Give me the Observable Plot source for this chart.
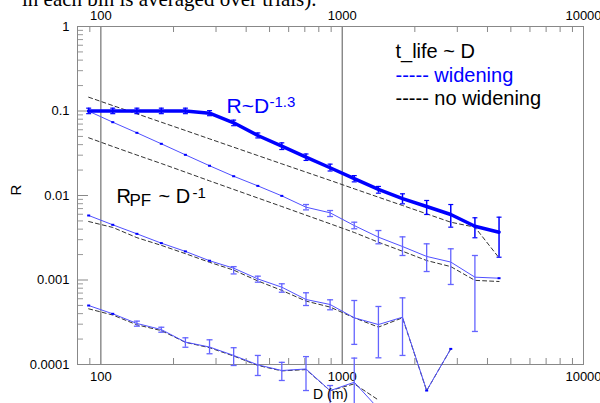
<!DOCTYPE html>
<html><head><meta charset="utf-8">
<script src="https://cdn.jsdelivr.net/npm/d3@7"></script>
<script src="https://cdn.jsdelivr.net/npm/@observablehq/plot@0.6"></script>
<style>
html,body{margin:0;padding:0;background:#fff;overflow:hidden;}
#wrap{position:relative;width:600px;height:403px;overflow:hidden;}
#chart{position:absolute;left:0;top:0;}
#caption{position:absolute;left:22px;top:-9px;font-family:"Liberation Serif",serif;font-size:21px;line-height:16px;white-space:nowrap;color:#000;}
</style></head><body>
<div id="wrap"><div id="chart"></div><div id="caption">in each bin is averaged over trials).</div></div>
<script>
// distance bins D (m)
const D = [89, 112, 141, 178, 224, 282, 355, 447, 562, 708, 891, 1122, 1413, 1778, 2239, 2818, 3548, 4467];

// top pair
const widenTop = [0.1, 0.1, 0.1, 0.1, 0.1, 0.0942, 0.0725, 0.0513, 0.0383, 0.0284, 0.0213, 0.0158, 0.0118, 0.0092, 0.00741, 0.00596, 0.00433, 0.00368];
const widenTopLo = [0.093, 0.093, 0.093, 0.093, 0.093, 0.088, 0.067, 0.048, 0.035, 0.026, 0.0195, 0.0145, 0.01065, 0.00797, 0.00596, 0.00422, 0.00316, 0.00186];
const widenTopHi = [0.108, 0.108, 0.108, 0.108, 0.108, 0.101, 0.078, 0.055, 0.042, 0.031, 0.0235, 0.0172, 0.0128, 0.01047, 0.00873, 0.00782, 0.00545, 0.00554];
const noWidenTop = [0.1456, 0.116, 0.0927, 0.0737, 0.0588, 0.0468, 0.0373, 0.0297, 0.0237, 0.0189, 0.0151, 0.012, 0.00955, 0.00762, 0.00607, 0.00483, 0.00422, 0.00183];

// second pair
const widen2 = [0.0995, 0.0737, 0.0552, 0.0409, 0.0303, 0.0225, 0.0169, 0.013, 0.0099, 0.00727, 0.00624, 0.00441, 0.00321, 0.00249, 0.0019, 0.00163, 0.00108, 0.00105];
const widen2Lo = [null, null, null, null, null, null, null, null, null, 0.00676, 0.00564, 0.00404, 0.00268, 0.00195, 0.00126, 0.000885, 0.000246, null];
const widen2Hi = [null, null, null, null, null, null, null, null, null, 0.00782, 0.00664, 0.00483, 0.00385, 0.00324, 0.00268, 0.00234, 0.00195, null];
const noWiden2 = [0.0482, 0.038, 0.0301, 0.0239, 0.0189, 0.0149, 0.0118, 0.00934, 0.00741, 0.00585, 0.00463, 0.00365, 0.0028, 0.00219, 0.0017, 0.00144, 0.00099, 0.00096];

// third pair
const widen3 = [0.0058, 0.0045, 0.00352, 0.00273, 0.00218, 0.00169, 0.00138, 0.00103, 0.000822, 0.000588, 0.000513, 0.000357, 0.000297, 0.000363, 0.0000492, 0.000153];
const widen3Lo = [null, null, null, null, null, null, 0.00118, 0.000942, 0.000717, 0.000499, 0.000444, 0.000173, 0.00012, 0.000128, null, null];
const widen3Hi = [null, null, null, null, null, null, 0.00144, 0.00111, 0.000902, 0.000706, 0.000583, 0.000572, 0.000486, 0.000615, null, null];
const noWiden3 = [0.00492, 0.00419, 0.00317, 0.00257, 0.00205, 0.00162, 0.00131, 0.000975, 0.000753, 0.000563, 0.000478, 0.000357, 0.000277, 0.000357, 0.000049, 0.000153];

// fourth pair
const widen4 = [0.000499, 0.000398, 0.000306, 0.000259, 0.000184, 0.000161, 0.000128, 0.0000991, 0.0000849, 0.0000885, 0.000049, 0.0000617, 0.00003];
const widen4Lo = [null, null, 0.000284, 0.000241, 0.00016, 0.000134, 0.0000973, 0.0000741, 0.0000647, 0.0000492, 0.00002, 0.00002, null];
const widen4Hi = [null, null, 0.000326, 0.000276, 0.000207, 0.000196, 0.000158, 0.000128, 0.000106, 0.000124, 0.0000564, 0.000119, null];
const noWiden4 = [0.000456, 0.000385, 0.000295, 0.000252, 0.000183, 0.000158, 0.000126, 0.0000975, 0.000084, 0.000087, 0.000049, 0.000059, 0.000038];

// axes
const xLabelTicks = [100, 1000, 10000];
const xLabelText = ["100", "1000", "10000"];
const xMinorTicks = [90, 200, 300, 400, 500, 600, 700, 800, 900, 2000, 3000, 4000, 5000, 6000, 7000, 8000, 9000];
const yMajorTicks = [1, 0.1, 0.01, 0.001, 0.0001];
const yLabelText = ["1", "0.1", "0.01", "0.001", "0.0001"];
const yMinorTicks = [0.9,0.8,0.7,0.6,0.5,0.4,0.3,0.2,0.09,0.08,0.07,0.06,0.05,0.04,0.03,0.02,0.009,0.008,0.007,0.006,0.005,0.004,0.003,0.002,0.0009,0.0008,0.0007,0.0006,0.0005,0.0004,0.0003,0.0002];

const rows = (s, vals, lo, hi) => vals.map((v, i) => ({s, D: D[i], R: v, lo: lo ? lo[i] : null, hi: hi ? hi[i] : null}));
const thick = rows("top", widenTop, widenTopLo, widenTopHi);
const thin = [...rows("w2", widen2, widen2Lo, widen2Hi), ...rows("w3", widen3, widen3Lo, widen3Hi), ...rows("w4", widen4, widen4Lo, widen4Hi)];
const dashed = [...rows("n1", noWidenTop), ...rows("n2", noWiden2), ...rows("n3", noWiden3), ...rows("n4", noWiden4)];
const thinErr = thin.filter(d => d.lo != null);
const thinNoErr = thin.filter(d => d.lo == null);

const cap = {draw(ctx, size) { const w = Math.sqrt(size / Math.PI); ctx.moveTo(-w, 0); ctx.lineTo(w, 0); }};

const W = 600, H = 403, mt = 26, mb = 39, ml = 77, mr = 17;
const iw = W - ml - mr, ih = H - mt - mb;
const blue = "#0000ff", thinBlue = "#5050ff", errBlue = "#6464ff";
const font = "Liberation Sans, Arial, sans-serif";

const chart = Plot.plot({
  width: W, height: H,
  marginTop: mt, marginBottom: mb, marginLeft: ml, marginRight: mr,
  style: {fontFamily: font, fontSize: "13px", background: "transparent", color: "#000", overflow: "visible"},
  x: {type: "log", domain: [80, 10000]},
  y: {type: "log", domain: [0.0001, 1]},
  marks: [
    Plot.ruleX([100, 1000], {stroke: "#555", strokeWidth: 1}),
    Plot.ruleX(xMinorTicks, {stroke: "#888", insetBottom: ih - 6}),
    Plot.ruleX(xMinorTicks, {stroke: "#888", insetTop: ih - 6}),
    Plot.ruleY(yMajorTicks, {stroke: "#888", insetRight: iw - 11}),
    Plot.ruleY(yMinorTicks, {stroke: "#999", insetRight: iw - 6}),
    Plot.frame({stroke: "#888"}),
    Plot.axisX({anchor: "top", ticks: xLabelTicks, tickSize: 0, tickPadding: 7, tickFormat: d => xLabelText[xLabelTicks.indexOf(d)], label: null}),
    Plot.axisX({anchor: "bottom", ticks: xLabelTicks, tickSize: 0, tickPadding: 7, tickFormat: d => xLabelText[xLabelTicks.indexOf(d)], label: null}),
    Plot.axisY({anchor: "left", ticks: yMajorTicks, tickSize: 0, tickPadding: 8, tickFormat: d => yLabelText[yMajorTicks.indexOf(d)], label: null}),
    Plot.line(dashed, {x: "D", y: "R", z: "s", stroke: "#333", strokeWidth: 1, strokeDasharray: "4,3"}),
    Plot.line(thin, {x: "D", y: "R", z: "s", stroke: thinBlue, strokeWidth: 1}),
    Plot.ruleX(thinErr, {x: "D", y1: "lo", y2: "hi", stroke: errBlue, strokeWidth: 1.3}),
    Plot.dot(thinErr, {x: "D", y: "lo", symbol: cap, r: 3, stroke: errBlue, strokeWidth: 1.3}),
    Plot.dot(thinErr, {x: "D", y: "hi", symbol: cap, r: 3, stroke: errBlue, strokeWidth: 1.3}),
    Plot.dot(thinNoErr, {x: "D", y: "R", symbol: cap, r: 1.5, stroke: blue, strokeWidth: 2}),
    Plot.line(thick, {x: "D", y: "R", stroke: blue, strokeWidth: 3.5}),
    Plot.ruleX(thick, {x: "D", y1: "lo", y2: "hi", stroke: blue, strokeWidth: 1.5}),
    Plot.dot(thick, {x: "D", y: "lo", symbol: cap, r: 2.5, stroke: blue, strokeWidth: 1.2}),
    Plot.dot(thick, {x: "D", y: "hi", symbol: cap, r: 2.5, stroke: blue, strokeWidth: 1.2}),
    // annotations
    Plot.text(["R~D"], {frameAnchor: "top-left", dx: 149, dy: 86, lineAnchor: "bottom", textAnchor: "start", fill: blue, fontSize: 21}),
    Plot.text(["-1.3"], {frameAnchor: "top-left", dx: 192, dy: 80, lineAnchor: "bottom", textAnchor: "start", fill: blue, fontSize: 15}),
    Plot.text(["R"], {frameAnchor: "top-left", dx: 39, dy: 176, lineAnchor: "bottom", textAnchor: "start", fill: "#000", fontSize: 20}),
    Plot.text(["PF"], {frameAnchor: "top-left", dx: 52, dy: 179, lineAnchor: "bottom", textAnchor: "start", fill: "#000", fontSize: 17}),
    Plot.text(["~ D"], {frameAnchor: "top-left", dx: 81, dy: 176, lineAnchor: "bottom", textAnchor: "start", fill: "#000", fontSize: 20}),
    Plot.text(["-1"], {frameAnchor: "top-left", dx: 115, dy: 171, lineAnchor: "bottom", textAnchor: "start", fill: "#000", fontSize: 15}),
    Plot.text(["t_life ~ D"], {frameAnchor: "top-left", dx: 318, dy: 31, lineAnchor: "bottom", textAnchor: "start", fill: "#000", fontSize: 20}),
    Plot.text(["----- widening"], {frameAnchor: "top-left", dx: 318, dy: 55, lineAnchor: "bottom", textAnchor: "start", fill: blue, fontSize: 20}),
    Plot.text(["----- no widening"], {frameAnchor: "top-left", dx: 318, dy: 78, lineAnchor: "bottom", textAnchor: "start", fill: "#000", fontSize: 20}),
    Plot.text(["D (m)"], {frameAnchor: "bottom", dy: 34, lineAnchor: "bottom", fontSize: 14, fill: "#000"}),
    Plot.text(["R"], {frameAnchor: "left", dx: -61, rotate: -90, fontSize: 15, fill: "#000"})
  ]
});
document.getElementById("chart").appendChild(chart);
</script>
</body></html>
